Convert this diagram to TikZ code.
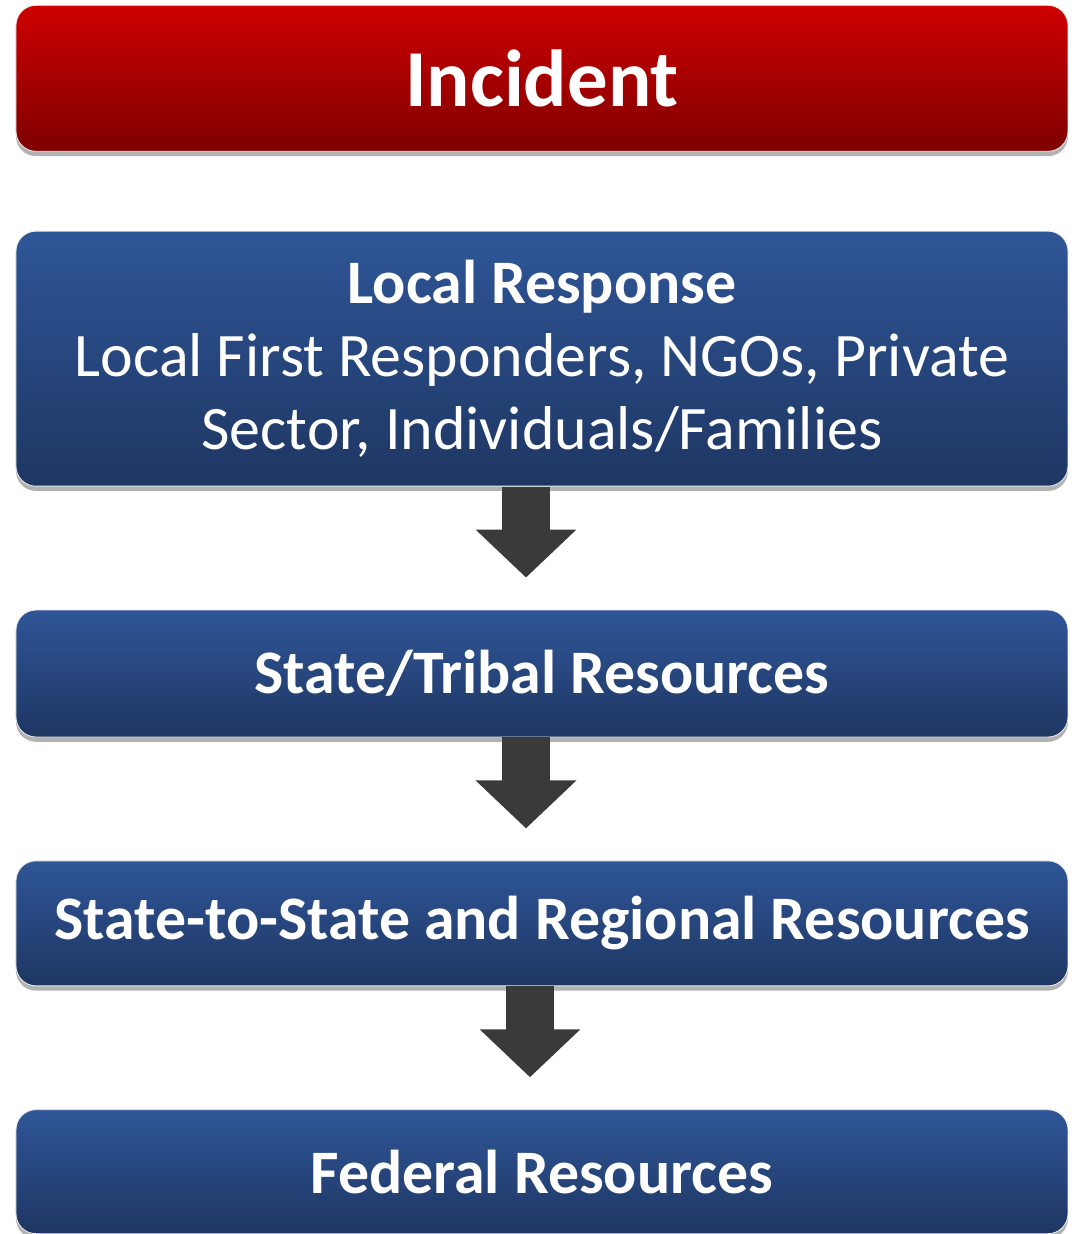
\documentclass[tikz,border=0pt]{standalone}
\usepackage{fontspec}
\setmainfont{Carlito}
\usetikzlibrary{arrows.meta,shadows}
\definecolor{incidenttop}{RGB}{206,0,0}
\definecolor{incidentbot}{RGB}{126,0,0}
\definecolor{leveltop}{RGB}{47,86,152}
\definecolor{levelbot}{RGB}{30,54,98}
\definecolor{arrowgray}{RGB}{58,58,58}
\tikzset{
  box/.style={rounded corners=0.5cm, draw=white!85!gray, line width=0.6pt,
    minimum width=26.3cm, text=white, align=center, inner sep=0pt,
    drop shadow={shadow xshift=0pt, shadow yshift=-0.12cm, fill=black, opacity=0.3}},
  redbox/.style={box, top color=incidenttop, bottom color=incidentbot,
    font=\fontsize{57.5}{62}\selectfont\bfseries},
  bluebox/.style={box, top color=leveltop, bottom color=levelbot,
    font=\fontsize{44}{52}\selectfont\bfseries},
  flowarrow/.style={draw=arrowgray, line width=1.2cm, shorten >=0.8cm,
    -{Triangle[length=1.2cm, width=2.45cm]}},
}
\begin{document}
\begin{tikzpicture}
  \useasboundingbox (-13.55,15.4875) rectangle (13.35,-15.3625);
  \matrix [row sep=3.075cm]
  {
    \node [redbox, minimum height=3.65cm] (incident) {Incident}; \\[-1.1cm]
    \node [bluebox, minimum height=6.375cm] (local)
      {Local Response\\ \mdseries Local First Responders, NGOs, Private\\
       \mdseries Sector, Individuals/Families}; \\
    \node [bluebox, minimum height=3.175cm] (state) {State/Tribal Resources}; \\
    \node [bluebox, minimum height=3.125cm] (regional)
      {State-to-State and Regional Resources}; \\
    \node [bluebox, minimum height=3.1cm] (federal) {Federal Resources}; \\
  };
  \draw [flowarrow] ([xshift=-0.4cm]local.south) -- ([xshift=-0.4cm]state.north);
  \draw [flowarrow] ([xshift=-0.4cm]state.south) -- ([xshift=-0.4cm]regional.north);
  \draw [flowarrow] ([xshift=-0.3cm]regional.south) -- ([xshift=-0.3cm]federal.north);
\end{tikzpicture}
\end{document}
